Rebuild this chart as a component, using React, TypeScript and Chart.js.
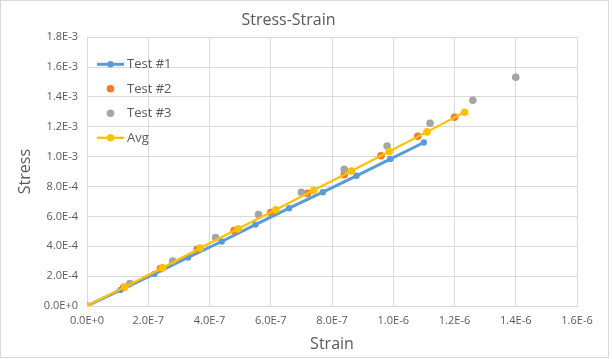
import React, { useEffect, useRef } from 'react';
import { Chart, registerables } from 'chart.js';

Chart.register(...registerables);

const chartTitle = 'Stress-Strain';
const xAxisTitle = 'Strain';
const yAxisTitle = 'Stress';
const seriesNames = ['Test #1', 'Test #2', 'Test #3', 'Avg'];
const seriesColors = ['#5B9BD5', '#ED7D31', '#A5A5A5', '#FFC000'];

const test1Strain = [0, 1.1e-7, 2.2e-7, 3.3e-7, 4.4e-7, 5.5e-7, 6.6e-7, 7.7e-7, 8.8e-7, 9.9e-7, 1.1e-6];
const test1Stress = [0, 1.08e-4, 2.15e-4, 3.25e-4, 4.32e-4, 5.45e-4, 6.55e-4, 7.62e-4, 8.72e-4, 9.84e-4, 1.095e-3];

const test2Strain = [0, 1.2e-7, 2.4e-7, 3.6e-7, 4.8e-7, 6.0e-7, 7.2e-7, 8.4e-7, 9.6e-7, 1.08e-6, 1.2e-6];
const test2Stress = [0, 1.25e-4, 2.5e-4, 3.8e-4, 5.05e-4, 6.26e-4, 7.54e-4, 8.79e-4, 1.006e-3, 1.136e-3, 1.264e-3];

const test3Strain = [0, 1.4e-7, 2.8e-7, 4.2e-7, 5.6e-7, 7.0e-7, 8.4e-7, 9.8e-7, 1.12e-6, 1.26e-6, 1.4e-6];
const test3Stress = [0, 1.5e-4, 3.01e-4, 4.58e-4, 6.13e-4, 7.62e-4, 9.15e-4, 1.071e-3, 1.224e-3, 1.378e-3, 1.532e-3];

const avgStrain = [0, 1.233e-7, 2.467e-7, 3.7e-7, 4.933e-7, 6.167e-7, 7.4e-7, 8.633e-7, 9.867e-7, 1.11e-6, 1.233e-6];
const avgStress = [0, 1.277e-4, 2.553e-4, 3.877e-4, 5.167e-4, 6.443e-4, 7.747e-4, 9.04e-4, 1.034e-3, 1.166e-3, 1.297e-3];

const xTickLabels = ['0.0E+0', '2.0E-7', '4.0E-7', '6.0E-7', '8.0E-7', '1.0E-6', '1.2E-6', '1.4E-6', '1.6E-6'];
const yTickLabels = ['0.0E+0', '2.0E-4', '4.0E-4', '6.0E-4', '8.0E-4', '1.0E-3', '1.2E-3', '1.4E-3', '1.6E-3', '1.8E-3'];

const FONT = "'Open Sans', sans-serif";
const TEXT = '#595959';
const GRID = '#D9D9D9';

const toPoints = (xs: number[], ys: number[]) => xs.map((x, i) => ({ x, y: ys[i] }));

const legendPlugin = {
  id: 'insideLegend',
  afterDraw(chart: any) {
    const ctx = chart.ctx;
    ctx.save();
    const x0 = 97;
    const x1 = 124;
    const xm = 110.5;
    const rows = [64.3, 88.8, 113.3, 137.8];
    chart.data.datasets.forEach((ds: any, i: number) => {
      const y = rows[i];
      if (ds.showLine) {
        ctx.strokeStyle = ds.borderColor;
        ctx.lineWidth = ds.borderWidth;
        ctx.lineCap = 'butt';
        ctx.beginPath();
        ctx.moveTo(x0, y);
        ctx.lineTo(x1, y);
        ctx.stroke();
      }
      ctx.fillStyle = ds.pointBackgroundColor;
      ctx.beginPath();
      ctx.arc(xm, y, ds.pointRadius, 0, Math.PI * 2);
      ctx.fill();
      ctx.fillStyle = TEXT;
      ctx.font = `13px ${FONT}`;
      ctx.textBaseline = 'middle';
      ctx.textAlign = 'left';
      ctx.fillText(ds.label, 127, y);
    });
    ctx.strokeStyle = GRID;
    ctx.lineWidth = 1;
    ctx.strokeRect(0.5, 0.5, 608, 357);
    ctx.restore();
  },
};

const bgPlugin = {
  id: 'bg',
  beforeDraw(chart: any) {
    const ctx = chart.ctx;
    ctx.save();
    ctx.fillStyle = '#FFFFFF';
    ctx.fillRect(0, 0, chart.width, chart.height);
    ctx.restore();
  },
};

export default function App() {
  const ref = useRef<HTMLCanvasElement | null>(null);

  useEffect(() => {
    if (!ref.current) return;
    const mk = (i: number, xs: number[], ys: number[], line: boolean, lw: number, r: number, order: number) => ({
      label: seriesNames[i],
      data: toPoints(xs, ys),
      showLine: line,
      borderColor: seriesColors[i],
      backgroundColor: seriesColors[i],
      pointBackgroundColor: seriesColors[i],
      pointBorderColor: seriesColors[i],
      pointBorderWidth: 0,
      borderWidth: lw,
      pointRadius: r,
      tension: 0,
      order,
    });
    const chart = new Chart(ref.current, {
      type: 'scatter',
      data: {
        datasets: [
          mk(0, test1Strain, test1Stress, true, 3, 3.2, 4),
          mk(1, test2Strain, test2Stress, false, 0, 3.8, 3),
          mk(2, test3Strain, test3Stress, false, 0, 3.8, 2),
          mk(3, avgStrain, avgStress, true, 2.25, 3.8, 1),
        ] as any,
      },
      options: {
        responsive: false,
        animation: false,
        devicePixelRatio: 1,
        layout: { padding: { top: 0, right: 35, left: 0, bottom: 0 } },
        plugins: {
          legend: { display: false },
          tooltip: { enabled: false },
          title: {
            display: true,
            text: chartTitle,
            color: TEXT,
            font: { family: FONT, size: 16, weight: 'normal' },
            padding: { top: 11, bottom: 7 },
          },
        },
        scales: {
          x: {
            type: 'linear',
            min: 0,
            max: 1.6e-6,
            ticks: {
              stepSize: 2e-7,
              color: TEXT,
              font: { family: FONT, size: 11 },
              padding: 8,
              maxRotation: 0,
              autoSkip: false,
              callback: (_v: any, i: number) => xTickLabels[i],
            },
            grid: { color: GRID, drawTicks: false },
            border: { color: GRID },
            title: {
              display: true,
              text: xAxisTitle,
              color: TEXT,
              font: { family: FONT, size: 16 },
              padding: { top: 0, bottom: 5 },
            },
            afterFit: (s: any) => { s.height = 53; },
          },
          y: {
            type: 'linear',
            min: 0,
            max: 1.8e-3,
            ticks: {
              stepSize: 2e-4,
              color: TEXT,
              font: { family: FONT, size: 11 },
              padding: 9,
              autoSkip: false,
              callback: (_v: any, i: number) => yTickLabels[i],
            },
            grid: { color: GRID, drawTicks: false },
            border: { color: GRID },
            title: {
              display: true,
              text: yAxisTitle,
              color: TEXT,
              font: { family: FONT, size: 16 },
              padding: { top: 16, bottom: 0 },
            },
            afterFit: (s: any) => { s.width = 87; },
          },
        },
      } as any,
      plugins: [bgPlugin, legendPlugin],
    });
    return () => chart.destroy();
  }, []);

  return (
    <div style={{ position: 'fixed', left: 0, top: 0, width: 612, height: 359 }}>
      <canvas ref={ref} width={612} height={359} style={{ display: 'block' }} />
    </div>
  );
}
